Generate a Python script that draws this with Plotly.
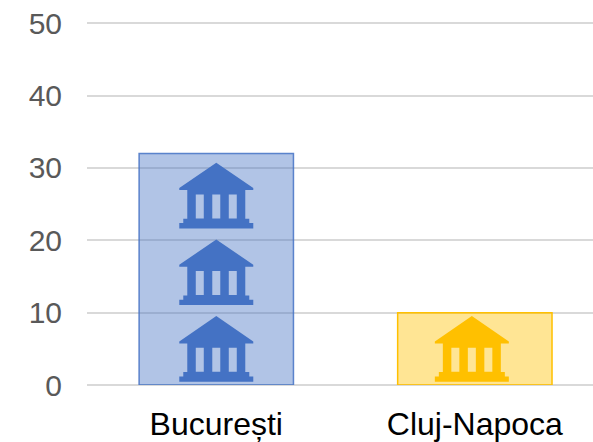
import plotly.graph_objects as go

categories = ["București", "Cluj-Napoca"]
values = [32, 10]
line_colors = ["rgba(68,114,196,0.85)", "#FFC000"]
fill_colors = ["rgba(68,114,196,0.42)", "rgba(255,192,0,0.42)"]
icon_colors = ["#4472C4", "#FFC000"]
y_ticks = [0, 10, 20, 30, 40, 50]

ICON_START = 5.0
ICON_STEP = 10.6
ICON_NUDGE_PX = [0, -3]

# Building pictogram, as subpaths of pixel points around its centre (y up)
ICON_SUBPATHS = [
    [(0, 32.7), (37, 7.3), (37, 5.3), (29, 5.3), (29, -23.3), (33, -23.3), (33, -27.7),
     (37, -27.7), (37, -33), (-37, -33), (-37, -27.7), (-33, -27.7), (-33, -23.3),
     (-29, -23.3), (-29, 5.3), (-37, 5.3), (-37, 7.3)],
    [(-20.5, 1), (-12.5, 1), (-12.5, -23), (-20.5, -23)],
    [(-4, 1), (4, 1), (4, -23), (-4, -23)],
    [(12.5, 1), (20.5, 1), (20.5, -23), (12.5, -23)],
]


def icon_path(dx):
    parts = []
    for sub in ICON_SUBPATHS:
        pts = " L".join(f"{x + dx},{y}" for x, y in sub)
        parts.append(f"M{pts} Z")
    return " ".join(parts)


fig = go.Figure(
    go.Bar(
        x=categories,
        y=values,
        width=0.597,
        marker=dict(color=fill_colors, line=dict(color=line_colors, width=1.5)),
        showlegend=False,
    )
)

shapes = []
for i, v in enumerate(values):
    for k in range(round(v / ICON_STEP)):
        shapes.append(
            dict(
                type="path",
                xref="x",
                yref="y",
                xsizemode="pixel",
                ysizemode="pixel",
                xanchor=i,
                yanchor=ICON_START + k * ICON_STEP,
                path=icon_path(ICON_NUDGE_PX[i]),
                fillcolor=icon_colors[i],
                line=dict(width=0),
                layer="above",
            )
        )

fig.update_layout(
    width=593,
    height=442,
    margin=dict(l=87, r=0, t=21, b=57),
    paper_bgcolor="white",
    plot_bgcolor="white",
    font=dict(family="Liberation Sans, Arial, sans-serif"),
    bargap=0.4,
    shapes=shapes,
    xaxis=dict(
        type="category",
        range=[-0.5, 1.457],
        showgrid=False,
        showline=False,
        zeroline=False,
        ticks="",
        ticklabelstandoff=17,
        tickfont=dict(size=32, color="#000000"),
    ),
    yaxis=dict(
        range=[0, 50.3],
        tickvals=y_ticks,
        showgrid=True,
        gridcolor="#D9D9D9",
        gridwidth=1.5,
        zeroline=True,
        zerolinecolor="#D9D9D9",
        zerolinewidth=1.5,
        showline=False,
        ticks="",
        ticklabelstandoff=24,
        tickfont=dict(size=30, color="#595959"),
    ),
)

fig.write_html(
    "out.html",
    config={"displayModeBar": False},
    post_script="document.documentElement.style.overflow='hidden';document.body.style.margin='0';",
)
